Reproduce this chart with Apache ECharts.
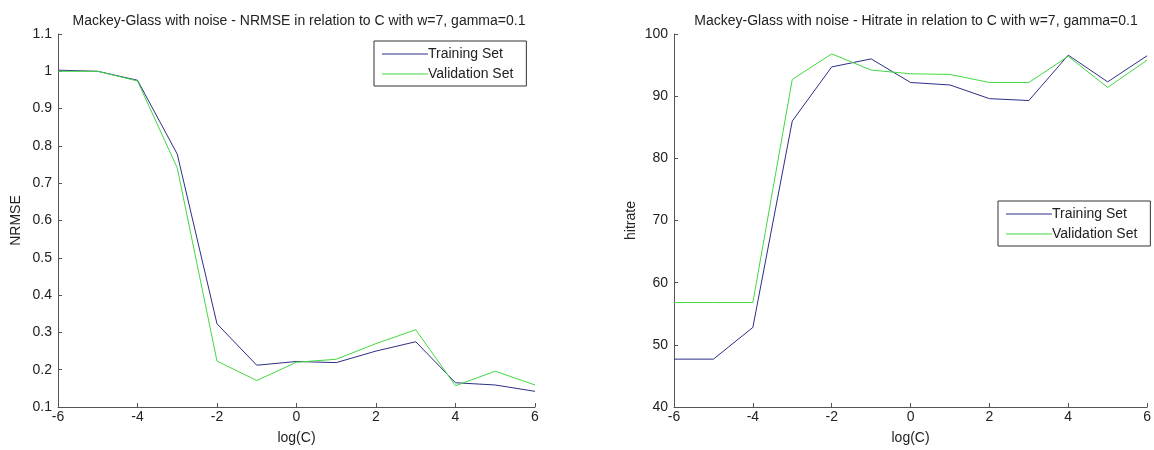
<!DOCTYPE html>
<html>
<head>
<meta charset="utf-8">
<script src="https://cdn.jsdelivr.net/npm/echarts@6/dist/echarts.min.js"></script>
<style>
html,body{margin:0;padding:0;background:#fff;}
#c{width:1154px;height:450px;}
</style>
</head>
<body>
<div id="c"></div>
<script>
const logC = [-6, -5, -4, -3, -2, -1, 0, 1, 2, 3, 4, 5, 6];
const nrmseTraining   = [1.003, 1.0, 0.976, 0.778, 0.323, 0.212, 0.222, 0.219, 0.250, 0.275, 0.165, 0.159, 0.142];
const nrmseValidation = [1.0, 1.0, 0.974, 0.741, 0.223, 0.171, 0.220, 0.228, 0.270, 0.307, 0.157, 0.196, 0.159];
const hitTraining   = [47.7, 47.7, 52.8, 86.0, 94.7, 96.0, 92.2, 91.8, 89.6, 89.3, 96.6, 92.3, 96.5];
const hitValidation = [56.8, 56.8, 56.8, 92.7, 96.8, 94.2, 93.6, 93.5, 92.2, 92.2, 96.4, 91.4, 95.8];
const seriesNames = ['Training Set', 'Validation Set'];
const titles = [
  'Mackey-Glass with noise - NRMSE in relation to C with w=7, gamma=0.1',
  'Mackey-Glass with noise - Hitrate in relation to C with w=7, gamma=0.1'
];

const FONT = '"Liberation Sans", Arial, sans-serif';
const TXT = '#222';
const AX = '#555';
const BLUE = '#2e2e86';
const GREEN = '#41d941';
const FS = 14;

const pairs = (xs, ys) => xs.map((x, i) => [x, ys[i]]);

const grids = [
  {left: 58, right: 619, top: 34, bottom: 40},
  {left: 674, right: 3, top: 34, bottom: 40}
];

function xAxis(gi) {
  return {
    type: 'value', gridIndex: gi, min: -6, max: 6, interval: 2,
    name: 'log(C)', nameLocation: 'middle', nameGap: 24,
    nameTextStyle: {fontFamily: FONT, fontSize: FS, color: TXT},
    axisLine: {show: true, onZero: false, lineStyle: {color: AX, width: 1}},
    axisTick: {show: true, inside: true, length: 4, lineStyle: {color: AX}},
    axisLabel: {fontFamily: FONT, fontSize: FS, color: TXT, margin: 3},
    splitLine: {show: false}
  };
}
function yAxis(gi, min, max, interval, name, gap) {
  return {
    type: 'value', gridIndex: gi, min: min, max: max, interval: interval,
    name: name, nameLocation: 'middle', nameGap: gap,
    nameTextStyle: {fontFamily: FONT, fontSize: FS, color: TXT},
    axisLine: {show: true, onZero: false, lineStyle: {color: AX, width: 1}},
    axisTick: {show: true, inside: true, length: 4, lineStyle: {color: AX}},
    axisLabel: {fontFamily: FONT, fontSize: FS, color: TXT, margin: 6,
      formatter: v => String(Math.round(v * 1000) / 1000)},
    splitLine: {show: false}
  };
}
function line(name, data, color, gi) {
  return {
    type: 'line', name: name, xAxisIndex: gi, yAxisIndex: gi,
    data: data, symbol: 'none', showSymbol: false, animation: false,
    lineStyle: {color: color, width: 1}, itemStyle: {color: color}
  };
}
function legend(pos) {
  return Object.assign({
    orient: 'vertical', data: seriesNames,
    icon: 'rect', itemWidth: 46, itemHeight: 1, itemGap: 6,
    borderColor: '#333', borderWidth: 1, backgroundColor: '#fff',
    padding: [6, 13, 5, 8],
    textStyle: {fontFamily: FONT, fontSize: FS, color: TXT, padding: [0, 0, 0, -5]}
  }, pos);
}

const chart = echarts.init(document.getElementById('c'), null, {renderer: 'canvas'});
chart.setOption({
  backgroundColor: '#fff',
  animation: false,
  title: [
    {text: titles[0], left: 294, top: 9, textAlign: 'center',
     textStyle: {fontFamily: FONT, fontSize: FS, fontWeight: 'normal', color: TXT}},
    {text: titles[1], left: 911, top: 9, textAlign: 'center',
     textStyle: {fontFamily: FONT, fontSize: FS, fontWeight: 'normal', color: TXT}}
  ],
  grid: grids,
  xAxis: [xAxis(0), xAxis(1)],
  yAxis: [yAxis(0, 0.1, 1.1, 0.1, 'NRMSE', 35), yAxis(1, 40, 100, 10, 'hitrate', 36)],
  legend: [
    legend({left: 374, top: 41}),
    legend({left: 998, top: 201})
  ],
  series: [
    line(seriesNames[0], pairs(logC, nrmseTraining), BLUE, 0),
    line(seriesNames[1], pairs(logC, nrmseValidation), GREEN, 0),
    line(seriesNames[0], pairs(logC, hitTraining), BLUE, 1),
    line(seriesNames[1], pairs(logC, hitValidation), GREEN, 1)
  ]
});
</script>
</body>
</html>
